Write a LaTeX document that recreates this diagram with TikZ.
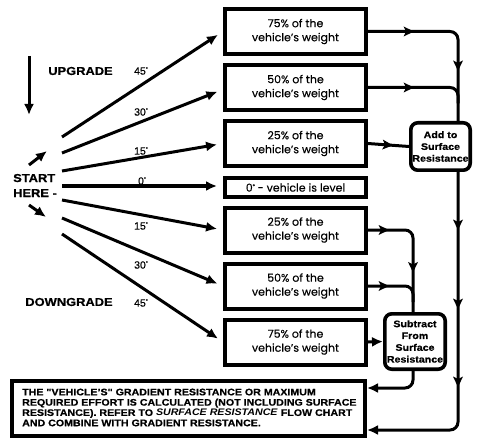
\documentclass[tikz,border=0pt]{standalone}
\usepackage{fontspec}
\setmainfont{Liberation Sans}
\newfontfamily\boxfont[FakeBold=0.3]{Poppins}
\newfontfamily\blk[FakeStretch=1.12, BoldFeatures={FakeBold=0.6}]{Liberation Sans}
\newfontfamily\medfont[FakeBold=0.5]{Liberation Sans}
\usetikzlibrary{arrows.meta,decorations.markings}
\newcommand\mydeg{\raisebox{3.8pt}{\fontsize{5}{5}\selectfont °}}
\begin{document}
\begin{tikzpicture}[x=1pt,y=-1pt,
  wbox/.style={draw, line width=4pt, minimum width=141pt, minimum height=45pt,
    inner sep=0pt, align=center, font=\boxfont\fontsize{11}{14}\selectfont},
  rbox/.style={draw, line width=3.6pt, rounded corners=7pt, inner sep=0pt,
    align=center, font=\blk\bfseries\fontsize{9.5}{11.8}\selectfont},
  conn/.style={line width=3pt, rounded corners=8pt},
  endtip/.style={-{Latex[length=11pt,width=10pt]}},
  midarr/.style={postaction={decorate, decoration={markings,
      mark=at position #1 with {\fill[sharp corners, line width=0pt] (0pt,0pt) -- (-10.5pt,5pt) -- (-8pt,0pt) -- (-10.5pt,-5pt) -- cycle;}}}},
  lbl/.style={font=\blk\bfseries\fontsize{11.5}{15}\selectfont, inner sep=0pt},
  deglbl/.style={font=\medfont\fontsize{10.5}{12}\selectfont, inner sep=0pt},
  larrow/.style={line width=3pt, endtip, shorten >=6pt}
]
\useasboundingbox (0,0) rectangle (478,446);

% boxes
\node[wbox] (b1) at (295.5,31.5) {75\% of the\\vehicle’s weight};
\node[wbox] (b2) at (295.5,87.5) {50\% of the\\vehicle’s weight};
\node[wbox] (b3) at (295.5,143.5) {25\% of the\\vehicle’s weight};
\node[wbox, minimum height=19pt] (b0) at (295.5,187.5) {0\mydeg{} - vehicle is level};
\node[wbox] (b5) at (295.5,230) {25\% of the\\vehicle’s weight};
\node[wbox] (b6) at (295.5,286) {50\% of the\\vehicle’s weight};
\node[wbox] (b7) at (295.5,342) {75\% of the\\vehicle’s weight};

\node[rbox, minimum width=59.4pt, minimum height=47.4pt] (add) at (440.5,146.5)
  {Add to\\Surface\\Resistance};
\node[rbox, minimum width=60.4pt, minimum height=55.4pt] (sub) at (415,341.5)
  {Subtract\\From\\Surface\\Resistance};

\node[draw, line width=4pt, minimum width=353pt, minimum height=55pt] (bot) at (188.5,408.5) {};
\node[anchor=west, align=left, inner sep=0pt,
  font=\blk\bfseries\fontsize{9.5}{10.3}\selectfont] (bottxt) at (22,407.5)
  {THE "VEHICLE’S" GRADIENT RESISTANCE OR MAXIMUM\\
   REQUIRED EFFORT IS CALCULATED (NOT INCLUDING SURFACE\\
   RESISTANCE). REFER TO \textit{SURFACE RESISTANCE} FLOW CHART\\
   AND COMBINE WITH GRADIENT RESISTANCE.};

% left labels
\node[lbl] (up) at (80.5,71) {UPGRADE};
\node[lbl] (down) at (69,302) {DOWNGRADE};
\node[lbl, anchor=west, align=left] (start) at (13,185.5) {START\\HERE -};

\node[deglbl] (d45u) at (141,71) {45\mydeg};
\node[deglbl] (d30u) at (141,112) {30\mydeg};
\node[deglbl] (d15u) at (141,151) {15\mydeg};
\node[deglbl] (d0)   at (142,181) {0\mydeg};
\node[deglbl] (d15d) at (141,226) {15\mydeg};
\node[deglbl] (d30d) at (141,265) {30\mydeg};
\node[deglbl] (d45d) at (141,303) {45\mydeg};

% start coordinates
\coordinate (s45u) at (62,137);
\coordinate (s30u) at (62,153);
\coordinate (s15u) at (62,171);
\coordinate (s0)   at (62,186);
\coordinate (s15d) at (62,200);
\coordinate (s30d) at (62,218);
\coordinate (s45d) at (62,234);

\draw[larrow] (s45u) -- (b1.west);
\draw[larrow] (s30u) -- ([yshift=-2pt]b2.west);
\draw[larrow] (s15u) -- (b3.west);
\draw[larrow] (s0) -- (b0.west |- s0);
\draw[larrow] (s15d) -- (b5.west);
\draw[larrow] (s30d) -- (b6.west);
\draw[larrow] (s45d) -- (b7.west);

% small arrows
\coordinate (da1) at (29,56); \coordinate (da2) at (29,115);
\draw[line width=3pt, endtip] (da1) -- (da2);
\coordinate (ua1) at (29,165); \coordinate (ua2) at (47,151);
\draw[line width=3pt, endtip] (ua1) -- (ua2);
\coordinate (dd1) at (29,205); \coordinate (dd2) at (46,217);
\draw[line width=3pt, endtip] (dd1) -- (dd2);

% right connectors
\coordinate (vx) at (458,0);
\coordinate (j1) at (458,430);
\coordinate (j2) at (413,388);

\draw[conn, midarr=46pt, midarr=126pt] (b1.east) -- (b1.east -| vx) -- (vx |- add.north);
\draw[conn, midarr=46pt] (b2.east) -- (b2.east -| vx) -- ++(0,16);
\draw[conn, midarr=25pt] (b3.east) -- (add.west);
\draw[conn, midarr=58pt, midarr=137pt, midarr=215pt, endtip] (add.south -| vx) -- (j1) -- (j1 -| bot.east);

\draw[conn, midarr=21pt, midarr=84pt] (b5.east) -- (b5.east -| j2) -- (j2 |- sub.north);
\draw[conn, midarr=21pt] (b6.east) -- (b6.east -| j2) -- ++(0,16);
\draw[conn, endtip] (b7.east) -- (sub.west);
\draw[conn, endtip] (sub.south -| j2) -- (j2) -- (j2 -| bot.east);
\end{tikzpicture}
\end{document}
